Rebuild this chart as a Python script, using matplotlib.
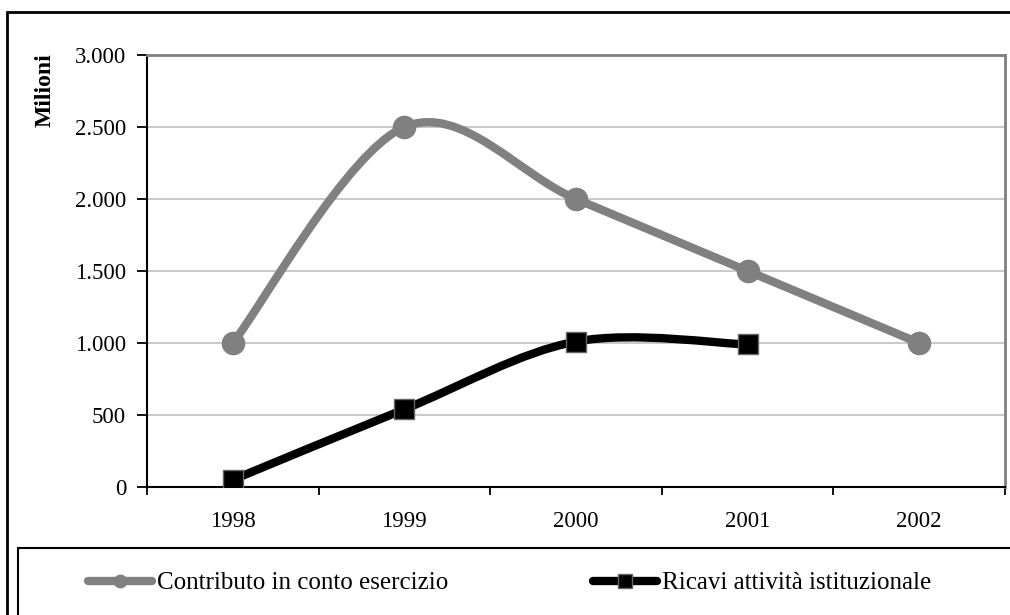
import numpy as np
import matplotlib.pyplot as plt
from matplotlib.path import Path
from matplotlib.patches import PathPatch, Rectangle
from matplotlib.lines import Line2D

plt.rcParams['font.family'] = ['Liberation Serif', 'DejaVu Serif']

years = ["1998", "1999", "2000", "2001", "2002"]
contributo = [1000, 2500, 2000, 1500, 1000]
ricavi = [50, 540, 1010, 990]
y_ticks = [0, 500, 1000, 1500, 2000, 2500, 3000]
y_labels = ["0", "500", "1.000", "1.500", "2.000", "2.500", "3.000"]
names = ["Contributo in conto esercizio", "Ricavi attività istituzionale"]

GRAY = "#808080"


def smooth_path(xs, ys):
    # excel-like smoothed line: bezier segments with catmull-rom control points
    pts = np.column_stack([xs, ys]).astype(float)
    n = len(pts)
    verts = [pts[0]]
    codes = [Path.MOVETO]
    for i in range(n - 1):
        p0 = pts[max(i - 1, 0)]
        p1 = pts[i]
        p2 = pts[i + 1]
        p3 = pts[min(i + 2, n - 1)]
        verts += [p1 + (p2 - p0) / 6, p2 - (p3 - p1) / 6, p2]
        codes += [Path.CURVE4] * 3
    return Path(verts, codes)


fig = plt.figure(figsize=(10.1, 6.15), dpi=100)
ax = fig.add_axes([147 / 1010, 1 - 487 / 615, 858 / 1010, 432 / 615])

x1 = np.arange(len(contributo))
x2 = np.arange(len(ricavi))

ax.add_patch(PathPatch(smooth_path(x1, contributo), fill=False, edgecolor=GRAY,
                       lw=6, capstyle="round", joinstyle="round", zorder=3))
ax.plot(x1, contributo, linestyle="none", marker="o", markersize=16,
        color=GRAY, zorder=4)
ax.add_patch(PathPatch(smooth_path(x2, ricavi), fill=False, edgecolor="black",
                       lw=6, capstyle="round", joinstyle="round", zorder=3))
ax.plot(x2, ricavi, linestyle="none", marker="s", markersize=14,
        markerfacecolor="black", markeredgecolor="#666666", markeredgewidth=1,
        zorder=4)

ax.set_xlim(-0.5, len(years) - 0.5)
ax.set_ylim(0, 3000)
ax.set_yticks(y_ticks)
ax.set_yticklabels(y_labels)
ax.set_xticks(x1)
ax.set_xticklabels(years)
ax.set_xticks(np.arange(-0.5, len(years)), minor=True)
ax.tick_params(axis="x", which="major", length=0, pad=17, labelsize=16.5)
ax.tick_params(axis="x", which="minor", length=6, width=1.3, direction="out")
ax.tick_params(axis="y", length=7, width=1.3, direction="out", pad=8, labelsize=16.5)

ax.yaxis.grid(True, color="#c0c0c0", lw=1.2)
ax.set_axisbelow(True)
for side in ("top", "right"):
    ax.spines[side].set_color(GRAY)
    ax.spines[side].set_linewidth(2)
for side in ("left", "bottom"):
    ax.spines[side].set_color("black")
    ax.spines[side].set_linewidth(1.5)

fig.text(45 / 1010, 1 - 90 / 615, "Milioni", rotation=90, ha="center",
         va="center", fontweight="bold", fontsize=17)

# outer chart border and legend box run off the right/bottom edge
fig.add_artist(Rectangle((7 / 1010, -0.2), 1.5, 0.2 + 1 - 12 / 615, fill=False,
                         lw=2, edgecolor="black", transform=fig.transFigure))
fig.add_artist(Rectangle((18 / 1010, -0.2), 1.5, 0.2 + 1 - 548 / 615, fill=False,
                         lw=1.5, edgecolor="black", transform=fig.transFigure))

handles = [
    Line2D([], [], color=GRAY, lw=6, marker="o", markersize=9,
           solid_capstyle="round"),
    Line2D([], [], color="black", lw=6, marker="s", markersize=10,
           markeredgecolor="#666666", solid_capstyle="round"),
]
fig.legend(handles, names, loc="center left",
           bbox_to_anchor=(88 / 1010, 1 - 583 / 615), ncol=2, frameon=False,
           fontsize=18, handlelength=2.56, handletextpad=0.2,
           columnspacing=5.8, borderpad=0, borderaxespad=0)

fig.savefig("out.png", dpi=100)
